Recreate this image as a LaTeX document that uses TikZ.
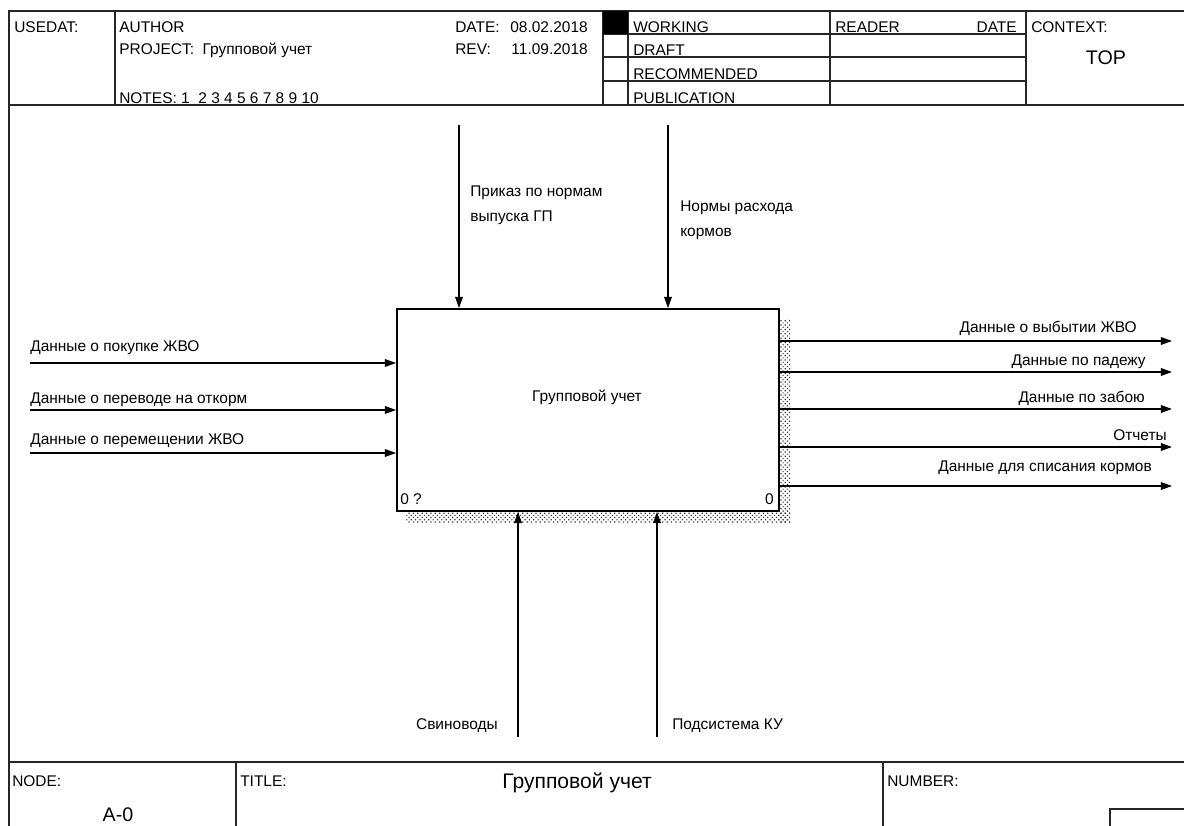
\documentclass[tikz,border=0pt]{standalone}
\usepackage{fontspec}
\setmainfont{Liberation Sans}
\usetikzlibrary{arrows.meta, positioning, patterns.meta}

\begin{document}
\begin{tikzpicture}[
  x=0.025cm, y=-0.025cm,
  >={Triangle[length=8pt,width=5.5pt]},
  frame/.style={line width=1.3pt, draw=black!85},
  rowline/.style={line width=1pt, draw=black!85},
  fnbox/.style={draw, line width=1.3pt, fill=white, inner sep=0pt,
                minimum width=9.55cm, minimum height=5.05cm},
  arr/.style={->, line width=0.9pt},
  lbl/.style={font=\fontsize{11}{17.8}\selectfont, inner sep=0pt, align=left},
  hdr/.style={font=\fontsize{11}{13}\selectfont, inner sep=0pt, anchor=base west},
  hdrr/.style={hdr, anchor=base east},
  big/.style={font=\fontsize{14}{16}\selectfont, inner sep=0pt},
  shadow/.style={pattern={Dots[distance=2.2pt, radius=0.6pt, angle=45]},
                 pattern color=black!80},
]
\useasboundingbox (0,0) rectangle (1184,826);
\fill[white] (0,0) rectangle (1184,826);

%% ── Cadre et en-tête ────────────────────────────────────────────────────
\draw[frame] (9,826) -- (9,11) -- (1184,11);
\draw[frame] (9,105) -- (1184,105);
\foreach \x in {115,603,628,830,1026}
  \draw[frame] (\x,11) -- (\x,105);
\foreach \y in {34,57,81}
  \draw[rowline] (603,\y) -- (1026,\y);
\fill (603,11) rectangle (628,34);

\node[hdr] (usedat) at (14,33) {USEDAT:};
\node[hdr] (author) at (119,33) {AUTHOR};
\node[hdr] (project) at (119,55) {PROJECT:\ \ Групповой учет};
\node[hdr] (notes) at (119,104) {NOTES:\ 1\ \ 2 3 4 5 6 7 8 9 10};
\node[hdr] (date) at (455,33) {DATE:};
\node[hdrr] (dateval) at (588,33) {08.02.2018};
\node[hdr] (rev) at (455,55) {REV:};
\node[hdrr] (revval) at (588,55) {11.09.2018};
\node[hdr] (working) at (633,33) {WORKING};
\node[hdr] (draft) at (633,56) {DRAFT};
\node[hdr] (recom) at (633,80) {RECOMMENDED};
\node[hdr] (publ) at (633,104) {PUBLICATION};
\node[hdr] (reader) at (835,33) {READER};
\node[hdrr] (rdate) at (1017,33) {DATE};
\node[hdr] (context) at (1031,33) {CONTEXT:};
\node[big] (top) at (1106,58) {TOP};

%% ── Bloc fonctionnel ────────────────────────────────────────────────────
\fill[shadow] (779,320) rectangle (790,522);
\fill[shadow] (406,511) rectangle (790,522);
\node[fnbox] (fn) at (588,410) {};
\node[lbl] (fnname) at (587,397) {Групповой учет};
\node[hdr] (fnnum) at (400,504) {0 ?};
\node[hdrr] (fncost) at (774,504) {0};

%% ── Entrées ─────────────────────────────────────────────────────────────
\coordinate (in1) at (30,363);
\coordinate (in2) at (30,410);
\coordinate (in3) at (30,453);
\draw[arr] (in1) -- (in1 -| fn.west);
\draw[arr] (in2) -- (in2 -| fn.west);
\draw[arr] (in3) -- (in3 -| fn.west);
\node[hdr] (in1lbl) at (30,352) {Данные о покупке ЖВО};
\node[hdr] (in2lbl) at (30,404) {Данные о переводе на откорм};
\node[hdr] (in3lbl) at (30,444) {Данные о перемещении ЖВО};

%% ── Sorties ─────────────────────────────────────────────────────────────
\coordinate (out1) at (1172,341);
\coordinate (out2) at (1172,372);
\coordinate (out3) at (1172,409);
\coordinate (out4) at (1172,447);
\coordinate (out5) at (1172,486);
\foreach \o in {out1,out2,out3,out4,out5}
  \draw[arr] (\o -| fn.east) -- (\o);
\node[hdrr] (out1lbl) at (1137,333) {Данные о выбытии ЖВО};
\node[hdrr] (out2lbl) at (1146,366) {Данные по падежу};
\node[hdrr] (out3lbl) at (1145,403) {Данные по забою};
\node[hdrr] (out4lbl) at (1167,441) {Отчеты};
\node[hdrr] (out5lbl) at (1152,472) {Данные для списания кормов};

%% ── Управление ──────────────────────────────────────────────────────────
\coordinate (ctl1) at (459,125);
\coordinate (ctl2) at (668,125);
\draw[arr] (ctl1) -- (ctl1 |- fn.north);
\draw[arr] (ctl2) -- (ctl2 |- fn.north);
\node[lbl, anchor=north west] (ctl1lbl) at (470,186) {Приказ по нормам\\выпуска ГП};
\node[lbl, anchor=north west] (ctl2lbl) at (680,201) {Нормы расхода\\кормов};

%% ── Механизмы ───────────────────────────────────────────────────────────
\coordinate (mec1) at (518,737);
\coordinate (mec2) at (657,737);
\draw[arr] (mec1) -- (mec1 |- fn.south);
\draw[arr] (mec2) -- (mec2 |- fn.south);
\node[hdrr] (mec1lbl) at (498,729) {Свиноводы};
\node[hdr] (mec2lbl) at (672,729) {Подсистема КУ};

%% ── Подвал ──────────────────────────────────────────────────────────────
\draw[frame] (9,762) -- (1184,762);
\draw[frame] (236,762) -- (236,826);
\draw[frame] (883,762) -- (883,826);
\draw[frame] (1184,809) -- (1110,809) -- (1110,826);
\node[hdr] (nodelbl) at (12,786) {NODE:};
\node[big] (nodeval) at (118,815) {A-0};
\node[hdr] (titlelbl) at (240,786) {TITLE:};
\node[big, font=\fontsize{15}{17}\selectfont] (titleval) at (577,783) {Групповой учет};
\node[hdr] (numlbl) at (887,786) {NUMBER:};
\end{tikzpicture}
\end{document}
